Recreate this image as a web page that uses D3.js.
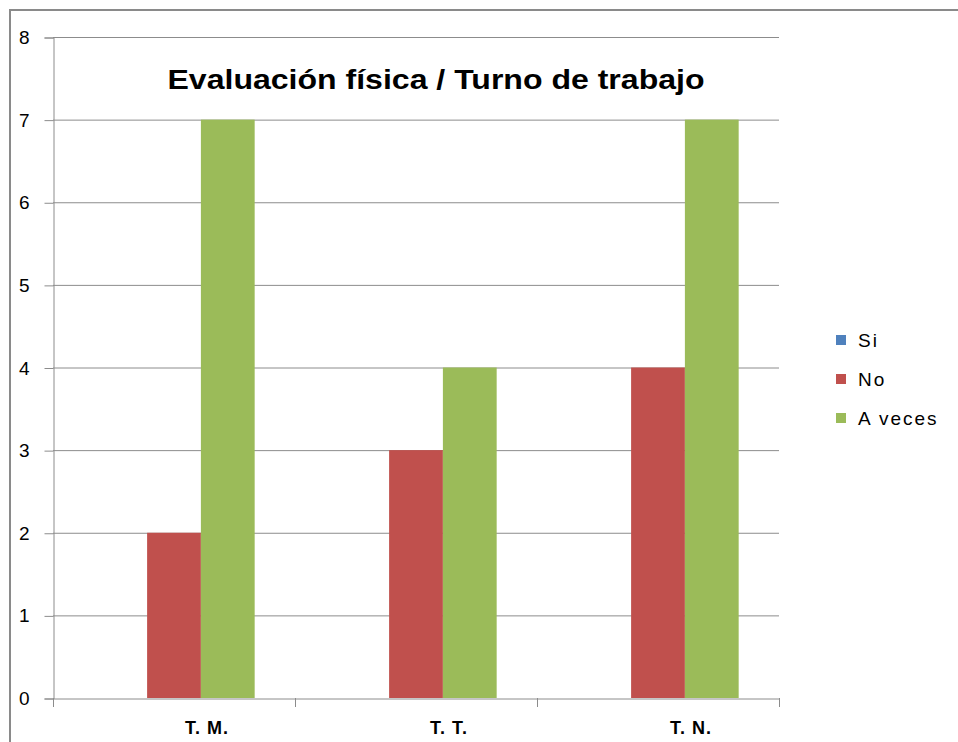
<!DOCTYPE html>
<html>
<head>
<meta charset="utf-8">
<script src="https://cdn.jsdelivr.net/npm/d3@7"></script>
<style>
  body { margin: 0; background: #fff; }
  svg { display: block; font-family: "Liberation Sans", Arial, sans-serif; }
</style>
</head>
<body>
<div id="chart"></div>
<script>
var categories = ["T. M.", "T. T.", "T. N."];
var seriesNames = ["Si", "No", "A veces"];
var siValues = [0, 0, 0];
var noValues = [2, 3, 4];
var aVecesValues = [7, 4, 7];
var yTicks = [0, 1, 2, 3, 4, 5, 6, 7, 8];
var colors = ["#4F81BD", "#C0504D", "#9BBB59"];

var seriesValues = [siValues, noValues, aVecesValues];

var width = 958;
var height = 742;
var plot = {left: 53, right: 779, top: 37, bottom: 698};

var svg = d3.select("#chart")
  .append("svg")
    .attr("width", width)
    .attr("height", height);

// outer chart frame (only top and left edges are visible)
svg.append("rect")
  .attr("x", 10)
  .attr("y", 10)
  .attr("width", width)
  .attr("height", height)
  .style("fill", "none")
  .style("stroke", "#8a8a8a")
  .style("stroke-width", 2);

var x0 = d3.scaleBand()
  .domain(categories)
  .range([plot.left, plot.right])
  .padding(0);

var x1 = d3.scaleBand()
  .domain(seriesNames)
  .range([0, x0.bandwidth()])
  .paddingInner(0)
  .paddingOuter(0.75);

var yScale = d3.scaleLinear()
  .domain([0, 8])
  .range([plot.bottom, plot.top]);

// gridlines
svg.append("g")
  .selectAll("line")
  .data(yTicks.filter(function (d) { return d > 0; }))
  .enter()
  .append("line")
    .attr("x1", plot.left)
    .attr("x2", plot.right)
    .attr("y1", function (d) { return yScale(d) + 0.5; })
    .attr("y2", function (d) { return yScale(d) + 0.5; })
    .style("stroke", "#8c8c8c")
    .style("stroke-width", 1);

// y axis
var yAxis = svg.append("g")
  .attr("transform", "translate(" + (plot.left + 0.5) + ",0.5)")
  .call(d3.axisLeft(yScale).tickValues(yTicks).tickSize(9).tickPadding(15).tickFormat(d3.format("d")));
yAxis.select(".domain").style("stroke", "#8c8c8c");
yAxis.selectAll(".tick line").style("stroke", "#8c8c8c");
yAxis.selectAll(".tick text")
  .style("font-family", "Liberation Sans, Arial, sans-serif")
  .style("font-size", "19px")
  .style("fill", "#000");

// bars
var groups = svg.append("g")
  .selectAll("g")
  .data(categories)
  .enter()
  .append("g")
    .attr("transform", function (d) { return "translate(" + x0(d) + ",0)"; });

groups.selectAll("rect")
  .data(function (d, i) {
    return seriesNames.map(function (s, j) {
      return {series: s, value: seriesValues[j][i], color: colors[j]};
    });
  })
  .enter()
  .append("rect")
    .attr("x", function (d) { return x1(d.series); })
    .attr("width", x1.bandwidth())
    .attr("y", function (d) { return yScale(d.value); })
    .attr("height", function (d) { return yScale(0) - yScale(d.value); })
    .style("fill", function (d) { return d.color; });

// x axis
var xAxis = svg.append("g")
  .attr("transform", "translate(0," + (plot.bottom + 0.5) + ")")
  .call(d3.axisBottom(x0).tickSize(0).tickFormat(""));
xAxis.select(".domain").style("stroke", "#8c8c8c");

// category boundary tick marks
svg.append("g")
  .selectAll("line")
  .data(categories.concat(["end"]))
  .enter()
  .append("line")
    .attr("x1", function (d, i) { return Math.round(plot.left + i * x0.step()) + 0.5; })
    .attr("x2", function (d, i) { return Math.round(plot.left + i * x0.step()) + 0.5; })
    .attr("y1", plot.bottom)
    .attr("y2", plot.bottom + 9)
    .style("stroke", "#8c8c8c");

// category labels
svg.append("g")
  .selectAll("text")
  .data(categories)
  .enter()
  .append("text")
    .attr("x", function (d) { return x0(d) + x0.bandwidth() / 2 + 33; })
    .attr("y", 734)
    .attr("text-anchor", "middle")
    .style("font-size", "18px")
    .style("font-weight", "bold")
    .style("letter-spacing", "1px")
    .text(function (d) { return d; });

// title
svg.append("text")
  .attr("x", 436)
  .attr("y", 89)
  .attr("text-anchor", "middle")
  .attr("textLength", 537)
  .attr("lengthAdjust", "spacingAndGlyphs")
  .style("font-size", "27px")
  .style("font-weight", "bold")
  .text("Evaluación física / Turno de trabajo");

// legend
var legend = svg.append("g")
  .selectAll("g")
  .data(seriesNames)
  .enter()
  .append("g")
    .attr("transform", function (d, i) { return "translate(836," + (340 + i * 39) + ")"; });

legend.append("rect")
  .attr("x", 0)
  .attr("y", -5)
  .attr("width", 10)
  .attr("height", 10)
  .style("fill", function (d, i) { return colors[i]; });

legend.append("text")
  .attr("x", 22)
  .attr("y", 7)
  .style("font-size", "19px")
  .style("letter-spacing", "2px")
  .text(function (d) { return d; });
</script>
</body>
</html>
